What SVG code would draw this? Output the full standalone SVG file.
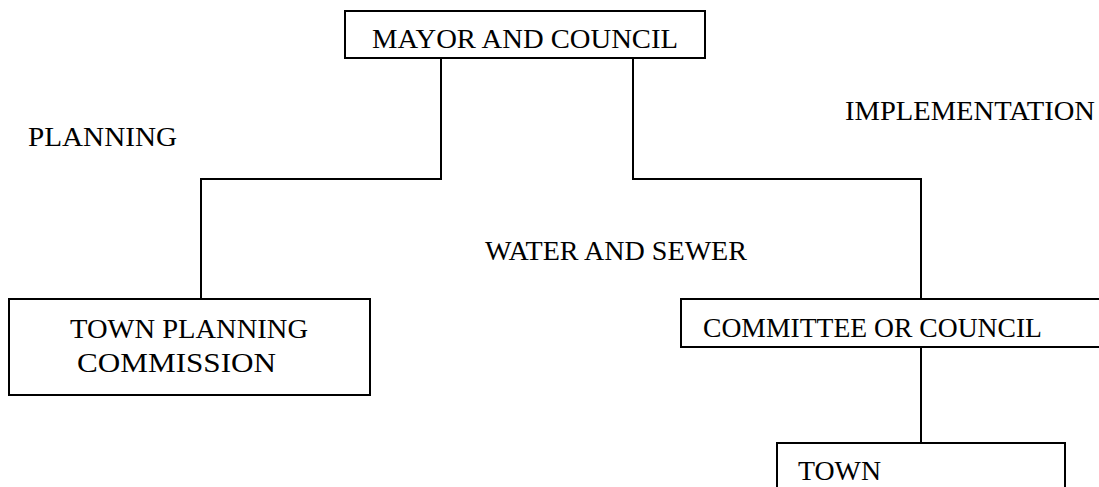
<svg xmlns="http://www.w3.org/2000/svg" width="1099" height="487" viewBox="0 0 1099 487">
<style>
.box{fill:#fff;stroke:#000;stroke-width:2}
.ln{fill:none;stroke:#000;stroke-width:2}
text{font-family:"Liberation Serif","Times New Roman",serif;font-size:27px;fill:#000}
</style>
<rect width="1099" height="487" fill="#fff"/>
<g id="connectors">
<path class="ln" d="M441,58 V179 H201 V299"/>
<path class="ln" d="M633,58 V179 H921 V299"/>
<path class="ln" d="M921,347 V443"/>
</g>
<g id="mayor">
<rect class="box" x="345" y="11" width="360" height="47"/>
<text x="372" y="48" textLength="306" lengthAdjust="spacingAndGlyphs">MAYOR AND COUNCIL</text>
</g>
<g id="planning-label"><text x="28" y="146" textLength="149" lengthAdjust="spacingAndGlyphs">PLANNING</text></g>
<g id="implementation-label"><text x="845" y="120" textLength="250" lengthAdjust="spacingAndGlyphs">IMPLEMENTATION</text></g>
<g id="water-label"><text x="485" y="260" textLength="262" lengthAdjust="spacingAndGlyphs">WATER AND SEWER</text></g>
<g id="planning-commission">
<rect class="box" x="9" y="299" width="361" height="96"/>
<text x="70" y="338" textLength="238" lengthAdjust="spacingAndGlyphs">TOWN PLANNING</text>
<text x="77" y="372" textLength="199" lengthAdjust="spacingAndGlyphs">COMMISSION</text>
</g>
<g id="committee">
<rect class="box" x="681" y="299" width="430" height="48"/>
<text x="703" y="337" textLength="339" lengthAdjust="spacingAndGlyphs">COMMITTEE OR COUNCIL</text>
</g>
<g id="town">
<rect class="box" x="777" y="443" width="288" height="60"/>
<text x="798" y="480" textLength="83" lengthAdjust="spacingAndGlyphs">TOWN</text>
</g>
</svg>
